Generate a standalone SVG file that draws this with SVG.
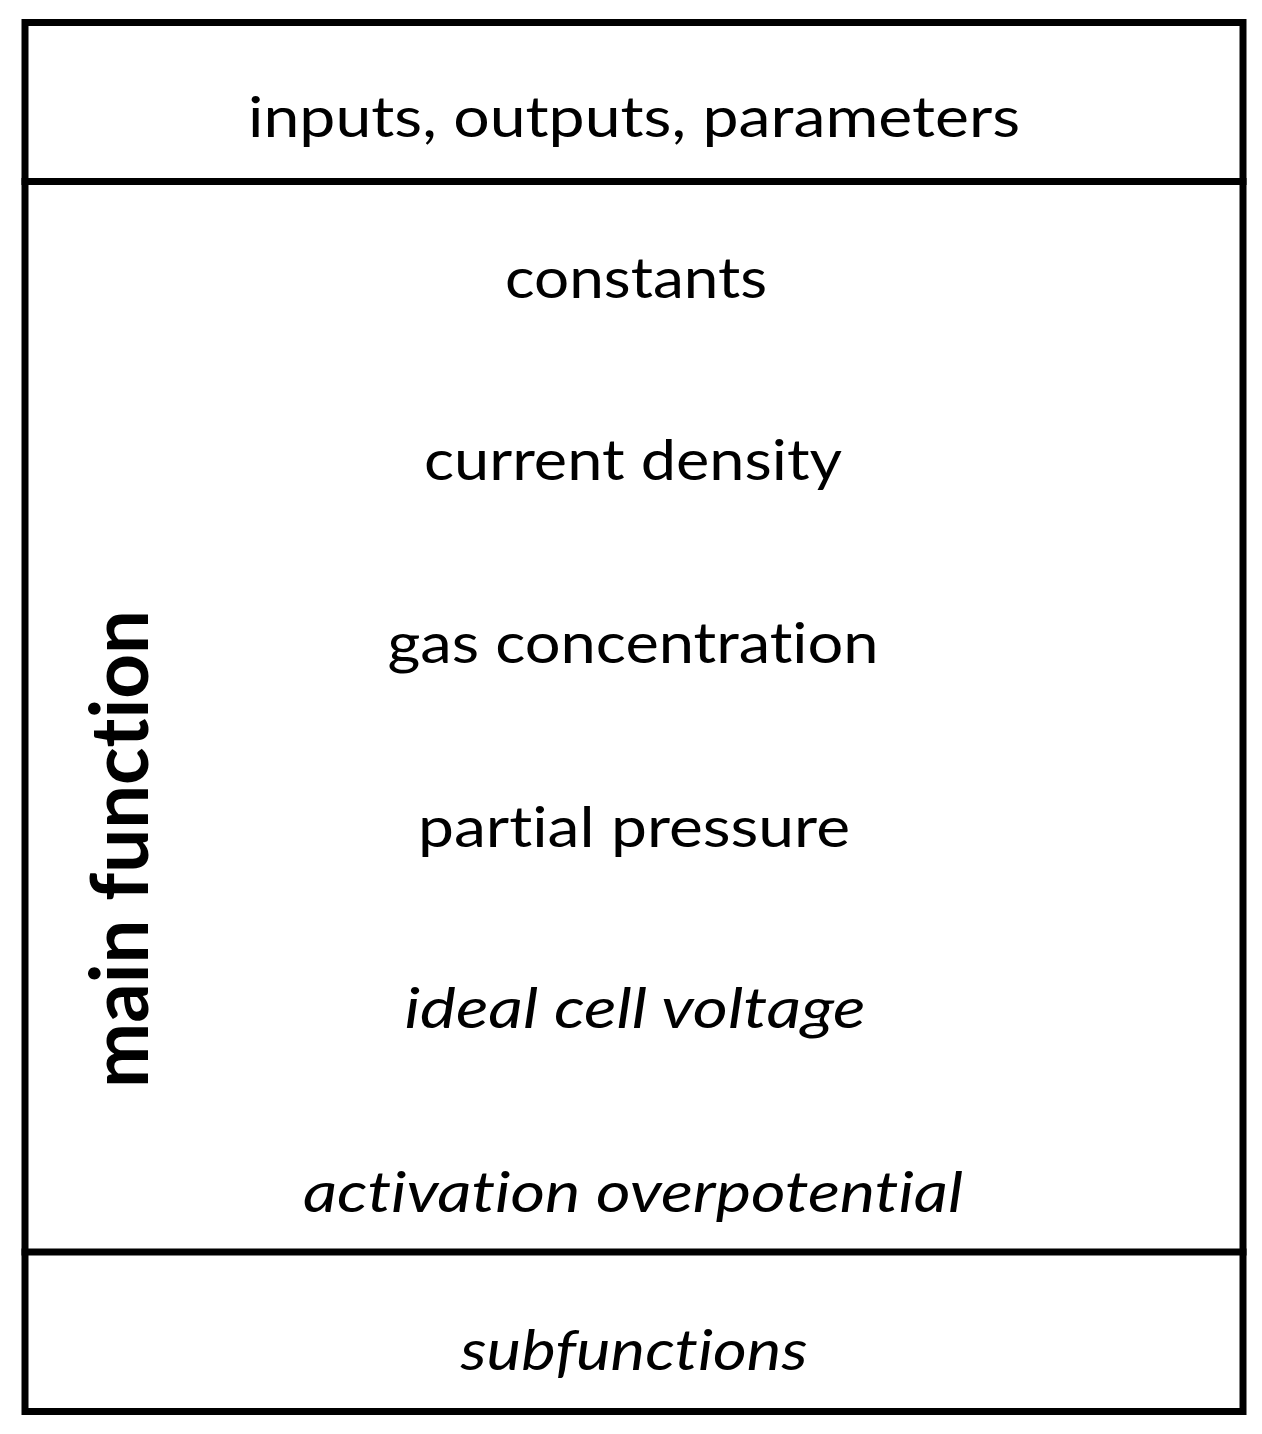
<svg xmlns="http://www.w3.org/2000/svg" width="1262" height="1434" viewBox="0 0 1262 1434">
<style>
.frame{fill:#fff;stroke:#000;stroke-width:7}
.div{stroke:#000;stroke-width:7}
.t{font-family:Lato,"Open Sans","Liberation Sans",sans-serif;font-size:56px;fill:#000;text-anchor:middle;font-variant-ligatures:none;font-feature-settings:"liga" 0,"clig" 0}
.i{font-style:italic}
.b{font-weight:bold;font-size:80px}
</style>
<rect width="1262" height="1434" fill="#fff"/>
<g id="frame">
<rect class="frame" x="25" y="22.5" width="1218" height="1389"/>
</g>
<g id="connectors">
<line class="div" x1="21.5" y1="181.5" x2="1246.5" y2="181.5"/>
<line class="div" x1="21.5" y1="1252" x2="1246.5" y2="1252"/>
</g>
<g id="header"><text class="t" x="634" y="137" textLength="772" lengthAdjust="spacingAndGlyphs">inputs, outputs, parameters</text></g>
<g id="main">
<text class="t b" x="148" y="849" transform="rotate(-90 148 849)" text-anchor="middle" textLength="478" lengthAdjust="spacingAndGlyphs">main function</text>
<text class="t" x="636" y="298" textLength="262" lengthAdjust="spacingAndGlyphs">constants</text>
<text class="t" x="633" y="480" textLength="418" lengthAdjust="spacingAndGlyphs">current density</text>
<text class="t" x="633" y="663" textLength="491" lengthAdjust="spacingAndGlyphs">gas concentration</text>
<text class="t" x="634" y="847" textLength="432" lengthAdjust="spacingAndGlyphs">partial pressure</text>
<text class="t i" x="635" y="1028" textLength="461" lengthAdjust="spacingAndGlyphs">ideal cell voltage</text>
<text class="t i" x="633" y="1212" textLength="660" lengthAdjust="spacingAndGlyphs">activation overpotential</text>
</g>
<g id="sub"><text class="t i" x="634" y="1370" textLength="347" lengthAdjust="spacingAndGlyphs">subfunctions</text></g>
</svg>
